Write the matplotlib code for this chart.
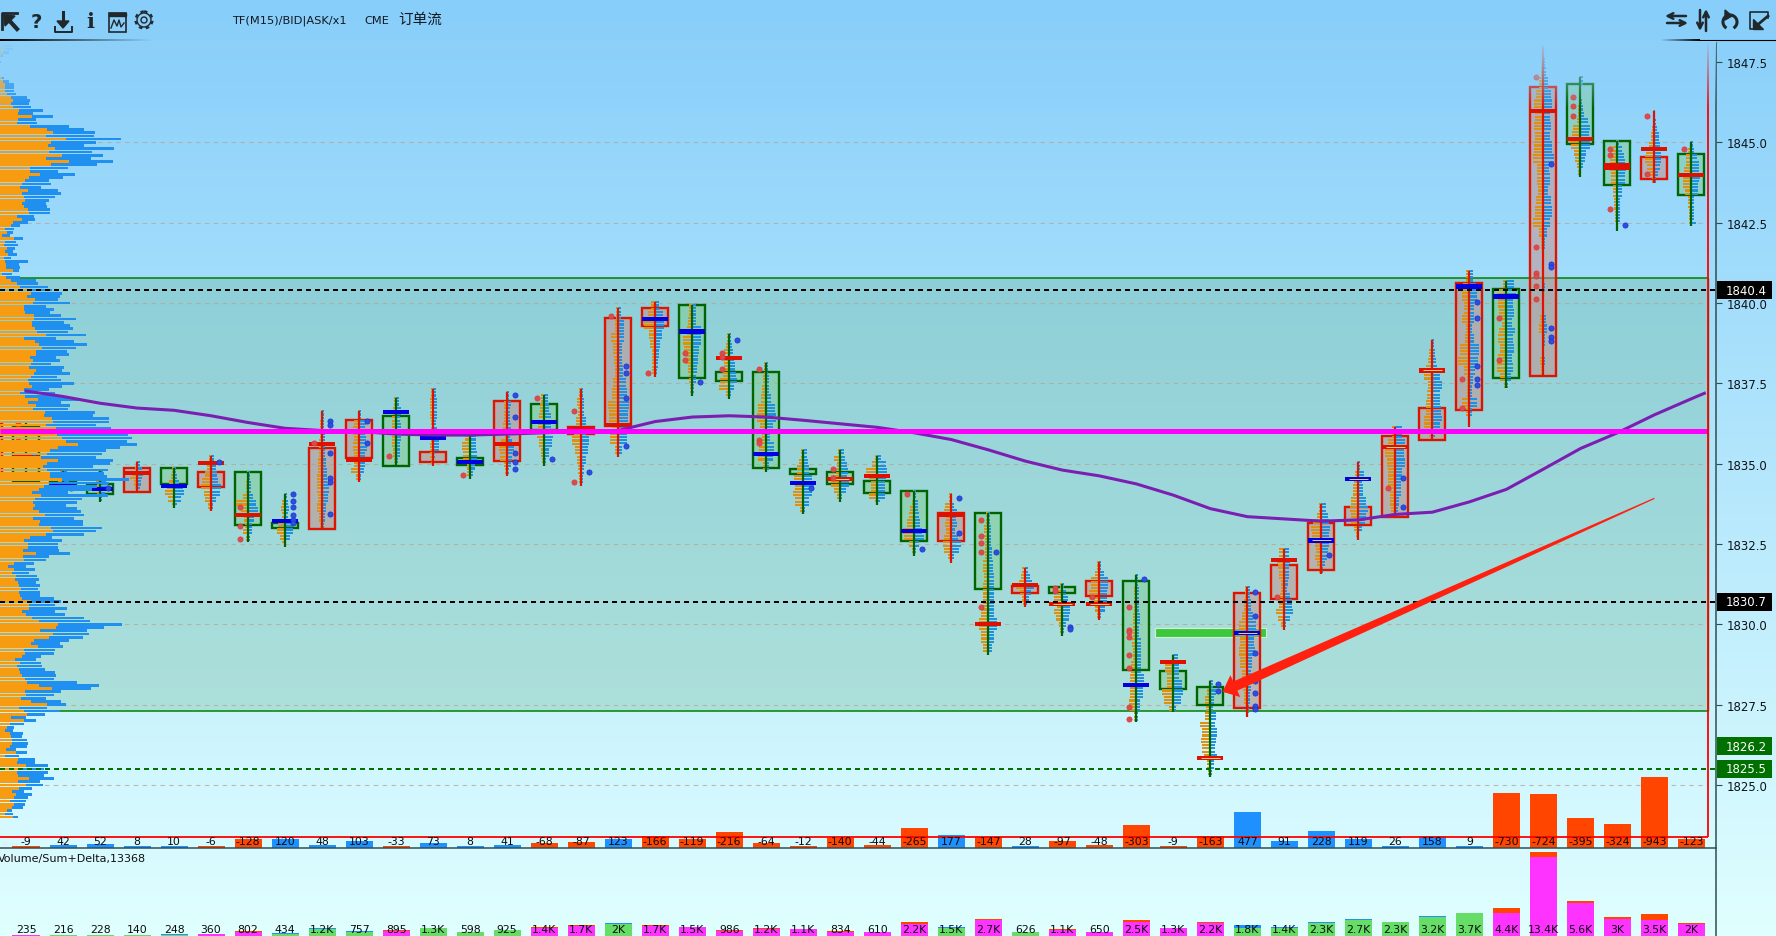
import numpy as np
import matplotlib
matplotlib.use("Agg")
from matplotlib import pyplot as plt
from matplotlib.patches import Rectangle, Polygon, Circle, Arc
from matplotlib.transforms import IdentityTransform

plt.rcParams['font.family'] = ['DejaVu Sans', 'Noto Sans CJK SC']

# per bar data
delta = [-9, 42, 52, 8, 10, -6, -128, 120, 48, 103, -33, 73, 8, 41, -68, -87, 123, -166, -119, -216, -64, -12, -140,
         -44, -265, 177, -147, 28, -97, -48, -303, -9, -163, 477, 91, 228, 119, 26, 158, 9, -730, -724, -395, -324,
         -943, -123]
volume = [235, 216, 228, 140, 248, 360, 802, 434, 1200, 757, 895, 1300, 598, 925, 1400, 1700, 2000, 1700, 1500, 986,
          1200, 1100, 834, 610, 2200, 1500, 2700, 626, 1100, 650, 2500, 1300, 2200, 1800, 1400, 2300, 2700, 2300, 3200,
          3700, 4400, 13400, 5600, 3000, 3500, 2000]
volume_labels = ['235', '216', '228', '140', '248', '360', '802', '434', '1.2K', '757', '895', '1.3K', '598', '925',
                 '1.4K', '1.7K', '2K', '1.7K', '1.5K', '986', '1.2K', '1.1K', '834', '610', '2.2K', '1.5K', '2.7K',
                 '626', '1.1K', '650', '2.5K', '1.3K', '2.2K', '1.8K', '1.4K', '2.3K', '2.7K', '2.3K', '3.2K', '3.7K',
                 '4.4K', '13.4K', '5.6K', '3K', '3.5K', '2K']

colors = list('gggrgrggrrgrgrgrrrggggggg' + 'rgrgrgggrrrrrrrgrggrg')
box_top = [1836.17, 1834.45, 1834.36, 1834.85, 1834.85, 1834.75, 1834.75, 1833.16, 1835.48, 1836.37, 1836.47, 1835.36,
           1835.17, 1836.96, 1836.85, 1836.15, 1839.54, 1839.84, 1839.94, 1837.85, 1837.85, 1834.83, 1834.75, 1834.47,
           1834.15, 1833.46, 1833.46, 1831.18, 1831.17, 1831.36, 1831.36, 1828.55, 1828.06, 1830.96, 1831.85, 1833.15,
           1833.66, 1835.87, 1836.73, 1840.62, 1840.43, 1846.73, 1846.8, 1845.04, 1844.55, 1844.64]
box_bot = [1834.46, 1834.25, 1834.07, 1834.13, 1834.36, 1834.26, 1833.09, 1832.99, 1832.97, 1835.17, 1834.94, 1835.06,
           1834.97, 1835.07, 1836.06, 1835.92, 1836.18, 1839.28, 1837.68, 1837.57, 1834.86, 1834.67, 1834.37, 1834.09,
           1832.59, 1832.59, 1831.1, 1830.96, 1830.97, 1830.88, 1828.57, 1827.98, 1827.49, 1827.39, 1830.79, 1831.69,
           1833.09, 1833.35, 1835.73, 1836.67, 1837.66, 1837.73, 1844.95, 1843.68, 1843.85, 1843.36]
wick_hi = [1836.34, 1834.77, 1834.77, 1835.05, 1834.85, 1835.23, 1834.73, 1834.05, 1836.63, 1836.63, 1837.04, 1837.32,
           1835.95, 1837.22, 1837.14, 1837.32, 1839.83, 1840.02, 1839.94, 1839.03, 1838.13, 1835.42, 1835.42, 1835.24,
           1834.15, 1834.05, 1833.46, 1831.74, 1831.25, 1831.93, 1831.53, 1829.04, 1828.24, 1831.16, 1832.34, 1833.74,
           1835.04, 1836.13, 1838.85, 1841.0, 1840.69, 1848.0, 1847.02, 1845.04, 1845.98, 1845.0]
wick_lo = [1834.43, 1834.05, 1833.82, 1834.15, 1833.63, 1833.54, 1832.56, 1832.42, 1832.97, 1834.44, 1834.9, 1834.94,
           1834.52, 1834.63, 1834.94, 1834.31, 1835.22, 1837.71, 1837.12, 1837.01, 1834.73, 1833.43, 1833.82, 1833.72,
           1832.14, 1831.91, 1829.05, 1830.55, 1829.65, 1830.14, 1826.95, 1827.26, 1825.26, 1827.13, 1829.83, 1831.56,
           1832.63, 1833.35, 1835.73, 1836.13, 1837.34, 1837.73, 1843.91, 1842.23, 1843.72, 1842.41]
poc = [1835.2, 1834.31, 1834.21, 1834.71, 1834.3, 1835.01, 1833.41, 1833.22, 1835.61, 1835.12, 1836.6, 1835.8, 1835.04,
       1835.6, 1836.3, 1836.11, 1836.2, 1839.51, 1839.11, 1838.29, 1835.31, 1834.41, 1834.52, 1834.62, 1832.9, 1833.42,
       1830.0, 1831.23, 1830.62, 1830.62, 1828.11, 1828.82, 1825.83, 1829.72, 1832.01, 1832.61, 1834.51, 1835.51,
       1837.9, 1840.51, 1840.2, 1845.98, 1845.1, 1844.25, 1844.79, 1843.99]
poc_colors = list('rbbrbrrbrrbbbrbrrbbrbbrrbrrrrrbrrbrbbrrbbrrrrr')
poc_thick = [43]
poc_thin = [22, 28, 29, 32, 33, 35, 36, 37, 38]

# bar profiles, coarse bands top to bottom
bid_bands = [[], [3, 5, 4, 3], [2, 4, 3, 3, 1], [1, 2, 5, 7, 3, 2], [2, 3, 5, 7, 9, 6, 2], [2, 4, 6, 9, 10, 7, 6, 3],
             [1, 2, 2, 5, 12, 7, 4, 3, 5, 2], [1, 3, 4, 3, 5, 7, 8, 5, 3], [1, 2, 2, 3, 3, 4, 4, 5, 5, 4, 5, 3, 2],
             [1, 5, 6, 5, 6, 5, 5, 8, 3], [2, 3, 4, 4, 4, 4, 3, 2], [2, 3, 3, 3, 2, 2, 2, 3, 3, 2], [5, 8, 7, 3, 3],
             [1, 3, 3, 3, 4, 2, 6, 8, 7, 3, 2], [3, 4, 5, 6, 7, 5, 3, 2], [2, 4, 3, 5, 7, 9, 6, 4, 3, 2],
             [2, 3, 7, 5, 4, 3, 5, 6, 10, 9, 6, 8, 3], [4, 7, 11, 6, 5, 3, 3, 3], [3, 4, 5, 9, 8, 6, 4, 3, 2],
             [2, 3, 5, 6, 5, 6, 9, 10, 3], [2, 3, 4, 5, 8, 9, 6, 4, 7, 8, 3], [2, 4, 6, 9, 8, 10, 8, 3],
             [2, 6, 3, 4, 9, 9, 6, 3], [2, 5, 11, 8, 6, 6, 8, 2], [1, 2, 4, 5, 7, 11, 10, 5, 2],
             [2, 6, 7, 5, 6, 5, 7, 8, 7, 3], [2, 4, 3, 3, 5, 4, 5, 5, 7, 9, 7, 5], [3, 4, 6, 9, 5, 3, 2],
             [2, 5, 8, 5, 8, 6, 3, 2], [2, 4, 8, 8, 10, 5, 4, 2], [1, 2, 2, 3, 3, 4, 3, 5, 6, 6, 7, 2],
             [1, 8, 6, 6, 11, 9, 4], [1, 3, 5, 4, 5, 10, 8, 9, 8, 6, 3, 2], [2, 3, 5, 8, 7, 8, 7, 5, 4, 3, 1],
             [5, 7, 6, 5, 3, 3, 4, 5, 8, 6, 3], [2, 4, 8, 10, 9, 6, 5, 6, 4, 2], [1, 3, 4, 5, 5, 7, 8, 7, 7, 4, 2],
             [3, 7, 10, 8, 7, 7, 5, 5, 4], [1, 3, 4, 6, 8, 4, 5, 6, 6, 8, 8, 3],
             [3, 6, 7, 5, 7, 3, 4, 9, 11, 5, 2, 2, 7, 3, 1], [3, 9, 8, 7, 4, 7, 8, 6, 8, 9, 6, 2],
             [0, 1, 2, 4, 7, 9, 8, 9, 8, 9, 10, 6, 6, 5, 7, 8, 10, 4, 2, 1, 1, 1, 1, 1, 1, 3, 4, 1, 1, 3, 2],
             [1, 1, 1, 1, 2, 2, 3, 7, 8, 10, 9, 6, 5, 3, 2], [1, 4, 5, 7, 7, 6, 6, 4, 4, 3, 3, 2, 2, 1],
             [1, 1, 2, 3, 5, 8, 9, 7, 5, 2], [1, 3, 5, 5, 7, 8, 8, 8, 6, 3, 3, 2, 2, 2]]
ask_bands = [[], [4, 6, 8, 4], [3, 6, 8, 5, 2], [3, 5, 6, 5, 4, 3], [2, 3, 5, 9, 10, 7, 3], [3, 5, 6, 7, 10, 9, 5, 2],
             [2, 3, 3, 5, 8, 10, 6, 4, 4, 2], [2, 3, 4, 3, 5, 8, 8, 5, 1], [2, 2, 3, 3, 3, 4, 5, 5, 7, 6, 4, 3, 2],
             [2, 7, 6, 7, 8, 6, 6, 5, 2], [3, 5, 4, 5, 5, 4, 4, 2], [3, 4, 4, 4, 3, 4, 6, 6, 2, 1], [6, 6, 7, 5, 3],
             [2, 4, 3, 3, 4, 3, 5, 7, 5, 4, 2], [4, 5, 7, 7, 9, 8, 5, 2], [2, 3, 3, 5, 5, 8, 7, 5, 3, 2],
             [3, 6, 6, 4, 4, 5, 8, 9, 11, 10, 8, 9, 4], [4, 8, 9, 7, 5, 4, 3, 2], [4, 4, 9, 9, 7, 6, 5, 4, 2],
             [2, 3, 4, 5, 6, 7, 8, 5, 2], [2, 3, 3, 5, 9, 10, 7, 4, 8, 7, 3], [4, 5, 6, 9, 11, 9, 6, 2],
             [4, 5, 7, 8, 7, 9, 6, 2], [4, 9, 10, 9, 8, 8, 8, 3], [2, 4, 4, 5, 6, 8, 10, 5, 2],
             [1, 3, 6, 5, 6, 4, 7, 10, 8, 3], [2, 3, 3, 4, 5, 6, 6, 6, 6, 9, 6, 4], [3, 5, 7, 9, 6, 4, 2],
             [2, 4, 6, 8, 8, 7, 4, 2], [2, 5, 9, 9, 8, 8, 6, 2], [2, 3, 3, 4, 3, 5, 5, 5, 8, 7, 4, 2],
             [5, 6, 6, 9, 10, 8, 3], [3, 6, 4, 3, 6, 5, 7, 6, 5, 7, 4, 2], [3, 4, 6, 9, 7, 8, 5, 4, 4, 3, 2],
             [5, 6, 5, 5, 4, 3, 6, 8, 9, 6, 2], [5, 7, 8, 9, 8, 8, 7, 6, 4, 2], [2, 6, 4, 5, 5, 8, 10, 8, 7, 4, 1],
             [7, 10, 9, 10, 7, 6, 6, 4, 3], [2, 3, 4, 5, 8, 10, 8, 8, 9, 10, 8, 3],
             [4, 7, 8, 5, 5, 3, 5, 10, 9, 6, 4, 3, 8, 3, 1], [8, 10, 7, 8, 6, 9, 7, 8, 6, 7, 5, 2],
             [1, 2, 3, 5, 8, 9, 7, 8, 7, 9, 11, 6, 7, 5, 8, 9, 7, 4, 2, 1, 1, 1, 2, 1, 1, 3, 4, 2, 1, 2, 1],
             [3, 1, 1, 2, 3, 4, 8, 10, 9, 10, 10, 6, 5, 3, 1], [2, 5, 7, 8, 9, 8, 8, 5, 5, 3, 3, 3, 3, 1],
             [1, 2, 3, 5, 6, 7, 7, 6, 4, 2], [2, 3, 6, 8, 8, 9, 8, 7, 7, 3, 3, 3, 3, 5]]

red_dot_bar = [0, 0, 0, 6, 6, 6, 8, 10, 12, 14, 15, 15, 16, 17, 18, 18, 19, 19, 19, 20, 20, 20, 22, 22, 24, 26, 26, 26,
               26, 26, 28, 28, 29, 30, 30, 30, 30, 30, 30, 30, 30, 34, 37, 39, 39, 40, 40, 41, 41, 41, 41, 41, 41, 42,
               42, 42, 43, 43, 43, 44, 44, 45]
red_dot_price = [1836.24, 1835.72, 1834.58, 1833.64, 1833.05, 1832.64, 1835.63, 1835.23, 1834.64, 1837.03, 1836.63,
                 1834.42, 1839.6, 1837.81, 1838.43, 1838.22, 1838.43, 1838.31, 1837.93, 1837.93, 1835.73, 1835.63,
                 1834.82, 1834.54, 1834.05, 1833.24, 1832.74, 1832.52, 1832.24, 1830.53, 1831.14, 1831.03, 1830.84,
                 1830.53, 1829.83, 1829.75, 1829.62, 1829.03, 1828.63, 1827.44, 1827.04, 1830.84, 1834.23, 1837.62,
                 1836.72, 1839.52, 1838.21, 1847.02, 1841.73, 1840.93, 1840.83, 1840.52, 1840.11, 1846.4, 1846.12,
                 1845.81, 1844.8, 1844.61, 1842.91, 1845.81, 1844.0, 1844.8]
blue_dot_bar = [0, 1, 2, 5, 7, 7, 7, 7, 7, 7, 8, 8, 8, 8, 8, 8, 9, 9, 13, 13, 13, 13, 13, 14, 15, 16, 16, 16, 16, 18,
                19, 21, 24, 25, 25, 26, 28, 28, 30, 32, 32, 33, 33, 33, 33, 33, 33, 33, 35, 37, 37, 39, 39, 39, 39, 39,
                41, 41, 41, 41, 41, 41, 43]
blue_dot_price = [1835.23, 1834.23, 1834.23, 1835.04, 1834.05, 1833.83, 1833.64, 1833.41, 1833.26, 1833.14, 1836.32,
                  1836.21, 1835.32, 1834.54, 1834.42, 1833.42, 1836.32, 1835.63, 1837.13, 1836.44, 1835.32, 1835.04,
                  1834.82, 1835.13, 1834.73, 1838.03, 1837.81, 1837.03, 1835.54, 1837.53, 1838.84, 1834.23, 1832.33,
                  1833.92, 1832.83, 1832.24, 1829.93, 1829.84, 1831.42, 1828.13, 1827.94, 1831.0, 1830.25, 1829.12,
                  1828.24, 1827.85, 1827.45, 1827.36, 1832.15, 1834.54, 1833.64, 1840.02, 1839.52, 1838.03, 1837.62,
                  1837.44, 1844.31, 1841.21, 1841.11, 1839.21, 1838.93, 1838.83, 1842.42]

ma_bar = list(range(46)) + [45.35]
ma = [1837.26, 1837.09, 1836.88, 1836.73, 1836.66, 1836.49, 1836.28, 1836.10, 1836.03, 1836.0, 1835.92, 1835.89,
      1835.89, 1835.92, 1835.96, 1836.0, 1836.03, 1836.31, 1836.45, 1836.49, 1836.45, 1836.35, 1836.24, 1836.13,
      1835.96, 1835.75, 1835.43, 1835.08, 1834.80, 1834.62, 1834.37, 1834.02, 1833.60, 1833.35, 1833.28, 1833.21,
      1833.25, 1833.42, 1833.49, 1833.81, 1834.2, 1834.83, 1835.47, 1835.96, 1836.52, 1837.02, 1837.19]

# left volume profile, 0.1 price per row from the top, in pixels
profile_top = 1848.0
profile_total = [12, 13, 9, 3, 0, 1, 0, 0, 0, 0,
                 4, 9, 14, 14, 14, 16, 27, 30, 29, 31, 43, 33, 53, 36, 37, 69, 84, 95, 94, 121, 96, 84, 114, 92, 103,
                 91, 113, 97, 68, 58, 75, 63, 49, 51, 41, 58, 61, 55, 49, 46, 47, 50, 50, 34, 35, 28, 20, 14, 13, 10,
                 23, 16, 18, 15, 13, 17, 11, 28, 19, 20, 19, 12, 20, 36, 38, 48, 52, 62, 60, 58, 70, 46, 54, 50, 61, 76,
                 64, 70, 73, 68, 86, 56, 74, 87, 76, 67, 69, 56, 60, 51, 64, 62, 70, 57, 61, 74, 62, 49, 55, 63, 78, 61,
                 70, 68, 95, 93, 109, 109, 96, 111, 128, 128, 132, 127, 137, 120, 106, 102, 96, 113, 110, 93, 108, 104,
                 107, 129, 109, 97, 92, 68, 108, 82, 77, 66, 77, 81, 84, 74, 83, 83, 102, 96, 84, 52, 62, 58, 58,
                 59, 70, 49, 46, 34, 26, 35, 29, 37, 39, 36, 40, 38, 40, 40, 54, 61, 55, 67, 55, 65, 84, 90, 122, 104,
                 87, 89, 83, 69, 60, 63, 55, 54, 41, 36, 41, 42, 45, 55, 56, 54, 77, 99, 91, 61, 54, 46, 61, 66, 47, 60,
                 45, 26, 36, 24, 14, 13, 23, 22, 27, 28, 27, 16, 27, 19, 35, 35, 48, 44, 48, 44, 54, 40, 43, 32, 24, 32,
                 28, 26, 25, 23, 12, 13, 18]
profile_bid = [4, 5, 3, 1, 0, 0, 0, 0, 0, 0,
               2, 3, 5, 5, 5, 7, 11, 13, 11, 13, 19, 18, 32, 18, 17, 30, 47, 53, 46, 66, 51, 48, 55, 49, 62,
               46, 69, 51, 30, 30, 40, 29, 25, 22, 20, 28, 22, 24, 25, 22, 24, 28, 29, 17, 22, 13, 11, 5, 7, 2,
               14, 5, 4, 7, 5, 8, 4, 5, 6, 6, 13, 2, 6, 11, 17, 20, 27, 31, 27, 35, 33, 24, 24, 25, 34, 34,
               32, 32, 35, 37, 46, 24, 35, 39, 42, 36, 36, 30, 33, 31, 29, 36, 34, 31, 28, 29, 32, 24, 20, 25, 38, 28,
               36, 33, 45, 44, 52, 53, 46, 56, 57, 57, 62, 66, 78, 58, 50, 47, 41, 58, 47, 43, 47, 50,
               50, 62, 49, 44, 39, 32, 41, 35, 33, 35, 33, 39, 45, 33, 40, 39, 51, 53, 46, 30, 24, 28, 28,
               23, 36, 23, 24, 14, 8, 14, 12, 16, 15, 18, 19, 21, 19, 20, 22, 31, 29, 29, 22, 26, 32, 39, 58, 56,
               40, 53, 49, 34, 31, 38, 24, 25, 22, 15, 20, 17, 19, 20, 22, 25, 27, 39, 52, 25, 26, 21, 31, 47, 19, 24,
               27, 11, 24, 10, 7, 5, 10, 11, 12, 12, 10, 6, 16, 5, 18, 17, 26, 18, 17, 18, 29, 18, 26, 19, 12, 16,
               14, 10, 14, 12, 7, 5, 13]

# price levels
ticks = [1825.0, 1827.5, 1830.0, 1832.5, 1835.0, 1837.5, 1840.0, 1842.5, 1845.0, 1847.5]
tick_labels = ['1825.0', '1827.5', '1830.0', '1832.5', '1835.0', '1837.5', '1840.0', '1842.5', '1845.0', '1847.5']
zone_top = 1840.77
zone_bot = 1827.29
black_levels = [1840.4, 1830.7]
green_levels = [1826.2, 1825.5]
magenta_level = 1836.03
signal_bar = [30.5, 33.5]
signal_price = 1829.73
arrow_tail = (44.0, 1833.92)
arrow_tip = (32.33, 1827.9)

W, H = 1776, 937
bar_px = 37.01          # one bar in pixels
x0_px = 26              # centre of bar 0
axis_x = 1716
price_y = 44
split_y = 849.3
frame_x = (1708 - x0_px) / bar_px
x_lim = (-x0_px / bar_px, (axis_x - x0_px) / bar_px)

fig = plt.figure(figsize=(W / 100, H / 100), dpi=100)


def px_axes(left, top, right, bottom):
    return fig.add_axes([left / W, 1 - bottom / H, (right - left) / W, (bottom - top) / H])


# background and toolbar, drawn in pixel coordinates
ax_px = fig.add_axes([0, 0, 1, 1], zorder=0)
top_c = np.array([135, 206, 250]) / 255
bot_c = np.array([224, 255, 255]) / 255
grad = np.linspace(0, 1, 256)[:, None, None] * (bot_c - top_c)[None, None, :] + top_c[None, None, :]
ax_px.imshow(grad, extent=[0, W, H, 0], aspect='auto')

fade = np.zeros((1, 64, 4))
fade[0, :, 3] = np.linspace(1, 0, 64)
ax_px.imshow(fade, extent=[0, 153, 42, 40.8], aspect='auto')
ax_px.imshow(fade[:, ::-1], extent=[1660, 1700, 42, 40.8], aspect='auto')
ax_px.plot([1700, W], [41.4, 41.4], color='k', lw=0.8)
ax_px.set_xlim(0, W)
ax_px.set_ylim(H, 0)
ax_px.axis('off')

ic = '#20282c'
ax_px.plot([2, 2, 17], [30, 14, 14], color=ic, lw=2)
ax_px.plot([17, 7], [30, 19], color=ic, lw=3)
ax_px.add_patch(Polygon([[4, 16], [15, 17], [5, 27]], color=ic))
ax_px.text(36, 22, '?', fontsize=14, fontweight='bold', color=ic, ha='center', va='center')
ax_px.plot([63, 63], [13, 26], color=ic, lw=2.2)
ax_px.add_patch(Polygon([[57, 22], [69, 22], [63, 29]], color=ic))
ax_px.plot([55, 55, 72, 72], [28, 33, 33, 28], color=ic, lw=1.4)
ax_px.text(90, 22, 'i', fontsize=15, fontweight='bold', family='DejaVu Serif', color=ic, ha='center', va='center')
ax_px.add_patch(Rectangle((109, 14), 17, 19, fill=False, ec=ic, lw=1.2))
ax_px.add_patch(Rectangle((109, 14), 17, 3, color=ic))
ax_px.plot([111, 114, 117, 119, 121, 124], [29, 21, 27, 21, 28, 24], color=ic, lw=1)
ax_px.add_patch(Circle((144, 21), 3, fill=False, ec=ic, lw=1))
ax_px.add_patch(Circle((144, 21), 7, fill=False, ec=ic, lw=1))
ax_px.add_patch(Circle((144, 21), 8.5, fill=False, ec=ic, lw=1.6, ls=(0, (1.6, 1.6))))

for a, b in [((1686, 17), (1665, 17)), ((1667, 24), (1688, 24)), ((1700, 11), (1700, 32)), ((1706, 32), (1706, 10))]:
    ax_px.annotate('', xy=b, xytext=a, arrowprops=dict(arrowstyle='->', lw=1.8, color=ic, shrinkA=0, shrinkB=0))
ax_px.add_patch(Arc((1730, 23), 14, 14, theta1=-240, theta2=60, ec=ic, lw=2.2))
ax_px.add_patch(Polygon([[1725, 11], [1732, 17], [1725, 21]], color=ic))
ax_px.plot([1768, 1768, 1750, 1750, 1758], [19, 13, 13, 30, 30], color=ic, lw=1.2)
ax_px.plot([1768, 1755], [17, 28], color=ic, lw=2)
ax_px.add_patch(Polygon([[1753, 20], [1753, 30], [1763, 30]], color=ic))

ax_px.text(232, 21, 'TF(M15)/BID|ASK/x1', fontsize=8.2, color='#101820', va='center')
ax_px.text(364, 21, 'CME', fontsize=8.2, color='#101820', va='center')
ax_px.text(398, 20, '订单流', fontsize=10.5, color='#101820', va='center', family=['Noto Sans CJK SC', 'DejaVu Sans'])

# price panel
ax = px_axes(0, price_y, axis_x, split_y)
ax.set_zorder(1)
ax.patch.set_visible(False)
ax.set_xlim(*x_lim)
ax.set_ylim(1823.03, 1848.09)
for s in ['top', 'left', 'bottom']:
    ax.spines[s].set_visible(False)
ax.spines['right'].set_color('#2F4F4F')
ax.spines['right'].set_linewidth(1.1)
ax.set_xticks([])
ax.yaxis.tick_right()
ax.set_yticks(ticks, tick_labels)
ax.tick_params(axis='y', length=4.5, width=0.8, color='#2F4F4F', pad=3.5, labelsize=8.5, labelcolor='#0c1418')

ax.add_patch(Rectangle((x_lim[0], zone_bot), frame_x - x_lim[0], zone_top - zone_bot, fc=(85 / 255, 168 / 255, 115 / 255, 0.25),
                       ec='none', zorder=1))
ax.hlines([zone_top, zone_bot], x_lim[0], frame_x, color='#008000', lw=1.1, zorder=2)
ax.vlines(frame_x, zone_bot, zone_top, color='#008000', lw=1.0, zorder=2)
ax.hlines(ticks[:-1], x_lim[0], frame_x, color='#B8A594', lw=0.8, ls=(0, (4, 4)), alpha=0.75, zorder=2)

ax.add_patch(Rectangle((signal_bar[0], signal_price - 0.14), signal_bar[1] - signal_bar[0], 0.28,
                       fc='#3CC83C', ec='#D4F0D4', lw=0.8, zorder=3))


def draw_candle(i, col, top, bot, hi, lo, poc_price, poc_col, thick=0.13):
    edge = '#DC1400' if col == 'r' else '#006400'
    face = (200 / 255, 140 / 255, 135 / 255, 0.5) if col == 'r' else (130 / 255, 205 / 255, 145 / 255, 0.5)
    ax.add_patch(Rectangle((i - 0.35, bot), 0.70, top - bot, fc=face, ec=edge, lw=1.7, zorder=4))
    ax.vlines(i, lo, hi, color=edge, lw=1.6, zorder=5)
    pc = '#E01000' if poc_col == 'r' else '#0000E0'
    ax.bar(i, thick, width=0.70, bottom=poc_price - thick / 2, color=pc, zorder=5.5)


draw_candle(-1, 'r', 1836.27, 1834.58, 1836.4, 1834.5, 1835.83, 'b')

for i in range(len(delta)):
    # bar profile first, so that the wick sits on top
    n_rows = max(int(round((wick_hi[i] - wick_lo[i]) / 0.1)), 1)
    rows = wick_hi[i] - 0.1 * np.arange(n_rows)
    if len(bid_bands[i]) > 0:
        idx = (np.arange(n_rows) * len(bid_bands[i])) // n_rows
        bids = np.array(bid_bands[i])[idx] / bar_px
        asks = np.array(ask_bands[i])[(np.arange(n_rows) * len(ask_bands[i])) // n_rows] / bar_px
        ax.barh(rows, -bids, height=0.065, left=i, color='#E09010', zorder=4.5)
        ax.barh(rows, asks, height=0.065, left=i, color='#2090E0', zorder=4.5)
    draw_candle(i, colors[i], box_top[i], box_bot[i], wick_hi[i], wick_lo[i], poc[i], poc_colors[i],
                0.21 if i in poc_thick else 0.13)
    if i in poc_thin:
        ax.hlines(poc[i], i - 0.25, i + 0.25, color='#F0D080', lw=0.7, zorder=5.6)

ax.scatter(np.array(red_dot_bar) - 0.205, red_dot_price, s=14, facecolor='#D05050', edgecolor='#F03030', lw=0.5, zorder=6)
ax.scatter(np.array(blue_dot_bar) + 0.205, blue_dot_price, s=14, facecolor='#3050D0', edgecolor='#1030F0', lw=0.5, zorder=6)

# left volume profile
prof_y = profile_top - 0.1 * np.arange(len(profile_total))
ax.barh(prof_y, np.array(profile_total) / bar_px, height=0.085, left=x_lim[0], color='#2090F0', zorder=7)
ax.barh(prof_y, np.array(profile_bid) / bar_px, height=0.085, left=x_lim[0], color='#F79C10', zorder=7.1)

ax.plot(ma_bar, ma, color='#7A1FB0', lw=2.2, zorder=8)
ax.hlines(magenta_level, x_lim[0], frame_x, color='#FF00FF', lw=3.6, zorder=9)
ax.hlines(black_levels, x_lim[0], x_lim[1], color='k', lw=1.44, ls=(0, (2.5, 2)), zorder=8.5)
ax.hlines(green_levels[1], x_lim[0], x_lim[1], color='#007000', lw=1.44, ls=(0, (2.5, 2)), zorder=8.5)

# price tags on the axis
for level, fc in [(black_levels[0], 'k'), (black_levels[1], 'k'), (green_levels[0], '#007000'), (green_levels[1], '#007000')]:
    ax.add_patch(Rectangle((1.0006, level - 0.28), 55 / axis_x, 0.56, transform=ax.get_yaxis_transform(), fc=fc, ec='none',
                           clip_on=False, zorder=10))
    ax.text(1 + 10 / axis_x, level, f'{level:.1f}', transform=ax.get_yaxis_transform(), color='w', fontsize=8.5, va='center',
            zorder=11, clip_on=False)

# tapered red arrow
fig.canvas.draw()
tail = ax.transData.transform(arrow_tail)
tip = ax.transData.transform(arrow_tip)
u = (tail - tip) / np.hypot(*(tail - tip))
n = np.array([-u[1], u[0]])
neck = tip + u * 14
ax.add_patch(Polygon([tail + n * 0.6, neck + n * 5, neck + n * 12, tip, neck - n * 12, neck - n * 5, tail - n * 0.6],
                     transform=IdentityTransform(), fc='#FF2010', ec='none', zorder=8.8))

# delta panel, shares the pixel box of the price panel
delta_scale = 0.0755
ax_d = px_axes(0, price_y, axis_x, split_y)
ax_d.set_zorder(2)
ax_d.patch.set_visible(False)
ax_d.set_xlim(*x_lim)
ax_d.set_ylim(0, (split_y - price_y) / delta_scale)
ax_d.axis('off')
d = np.array(delta)
d_h = np.maximum(np.abs(d), 27)
ax_d.bar(range(len(d)), d_h, width=0.73, color=['#1E90FF' if v > 0 else '#FF4500' for v in d])
frame_y = 11 / delta_scale
ax_d.hlines(frame_y, x_lim[0], frame_x, color='#FF0000', lw=1.3, zorder=3)
ax_d.vlines(frame_x, frame_y, (split_y - price_y) / delta_scale, color='#FF0000', lw=1.3, zorder=3)
ax_d.hlines(0, x_lim[0], x_lim[1], color='#2F4F4F', lw=1.1, zorder=3, clip_on=False)
for i, v in enumerate(delta):
    ax_d.text(i, 7 / delta_scale, str(v), ha='center', va='center', fontsize=7.8, color='#0c0c0c', zorder=4)
ax_d.text(x_lim[0] + 0.01, 5 / delta_scale, '14:44', fontsize=4.5, color='#e8e8e8', alpha=0.9, va='center', zorder=4.5)

# fade at the top of the chart
ax_f = px_axes(0, price_y - 2, axis_x - 1, 110)
ax_f.set_zorder(3)
veil = np.zeros((64, 1, 4))
veil[:, 0, :3] = top_c + (bot_c - top_c) * 0.07
veil[:, 0, 3] = np.linspace(1, 0, 64)
ax_f.imshow(veil, aspect='auto')
ax_f.axis('off')

# volume panel
vol_scale = 6.27 / 1000
ax_v = px_axes(0, split_y, axis_x, H)
ax_v.set_zorder(1)
ax_v.patch.set_visible(False)
ax_v.set_xlim(*x_lim)
ax_v.set_ylim(0, (H - split_y) / vol_scale)
for s in ['top', 'left', 'bottom']:
    ax_v.spines[s].set_visible(False)
ax_v.spines['right'].set_color('#2F4F4F')
ax_v.spines['right'].set_linewidth(1.1)
ax_v.set_xticks([])
ax_v.set_yticks([])
vol = np.array(volume)
top_part = np.abs(d)
base_part = vol - top_part
ax_v.bar(range(len(vol)), base_part, width=0.73, color=['#66DD66' if v > 0 else '#FF33FF' for v in d])
ax_v.bar(range(len(vol)), top_part, bottom=base_part, width=0.73, color=['#1E90FF' if v > 0 else '#FF4500' for v in d])
for i, lab in enumerate(volume_labels):
    ax_v.text(i, 7 / vol_scale, lab, ha='center', va='center', fontsize=7.8, color='#0c0c0c')
fig.text(-2 / W, 1 - 859 / H, 'Volume/Sum+Delta,13368', fontsize=8, color='#101010', va='center')

fig.savefig('out.png', dpi=100)
